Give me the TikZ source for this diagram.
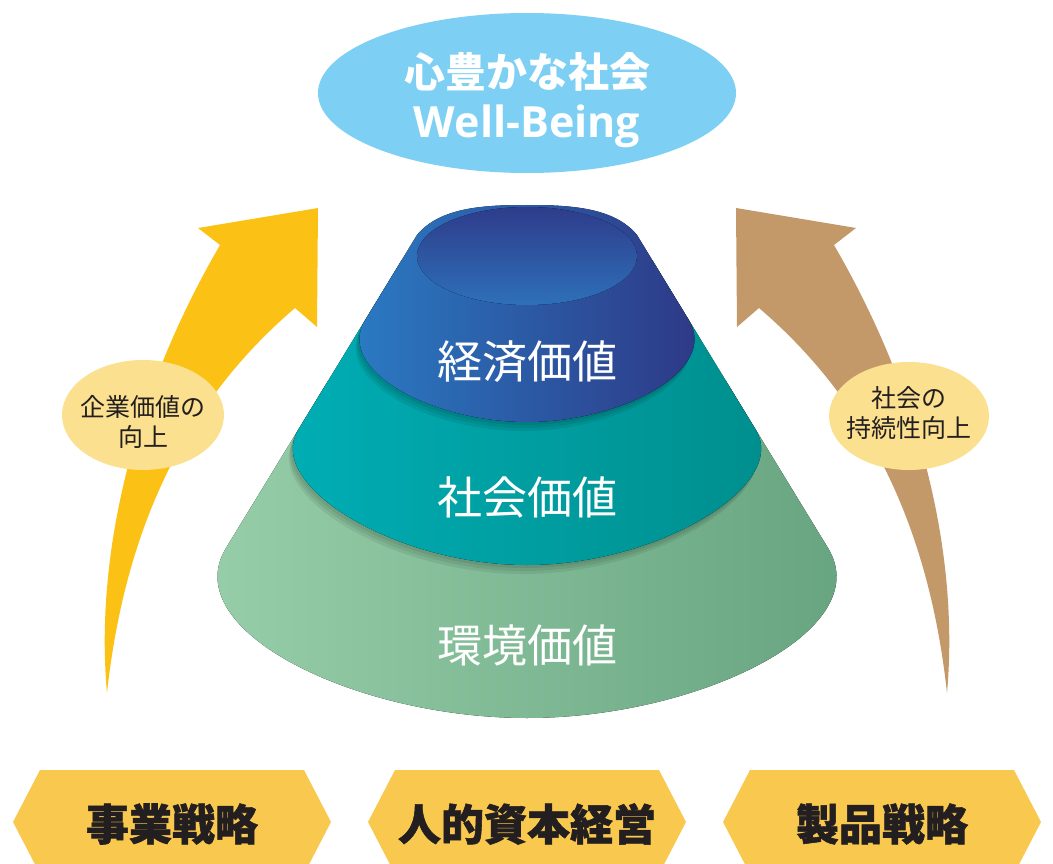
\documentclass[tikz,border=0pt]{standalone}
\usepackage{fontspec}
\usetikzlibrary{shapes.geometric}
\newfontfamily\jp{Noto Sans CJK JP}
\newfontfamily\jpheavy{Noto Sans CJK JP}[BoldFeatures={FakeBold=1.3}]
\newfontfamily\latsans{Open Sans}
\definecolor{skyb}{HTML}{7DCFF3}
\definecolor{arrY}{HTML}{FCC115}
\definecolor{arrB}{HTML}{C4996A}
\definecolor{bub}{HTML}{FBE08F}
\definecolor{hexY}{HTML}{F9C84E}
\definecolor{blueL}{HTML}{2A7EC6}
\definecolor{blueR}{HTML}{2E3583}
\definecolor{capT}{HTML}{2E3C8B}
\definecolor{capB}{HTML}{2E70B9}
\definecolor{tealL}{HTML}{00AFB6}
\definecolor{tealR}{HTML}{008D8C}
\definecolor{grnL}{HTML}{99D0AB}
\definecolor{grnR}{HTML}{65A27E}
\definecolor{ink}{HTML}{231F20}
\tikzset{
  bluepath/.style={insert path={(417,235) .. controls (440,207) and (485,205) .. (527,205) .. controls (569,205) and (614,207) .. (637,235) -- (688.8,320) .. controls (719.3,370) and (622,422) .. (527,422) .. controls (432,422) and (334.7,370) .. (365.2,320) -- cycle}},
  tealpath/.style={insert path={(401.8,260) -- (298.1,430) .. controls (264.5,485) and (395,565) .. (527,565) .. controls (659,565) and (789.5,485) .. (755.9,430) -- (652.2,260) -- cycle}},
  grnpath/.style={insert path={(328.6,380) -- (226,548) .. controls (176,630) and (355,718) .. (527,718) .. controls (699,718) and (878,630) .. (828,548) -- (725.4,380) -- cycle}},
  shadowcopy/.style={fill=black, opacity=0.07},
  layertext/.style={font=\jp\fontsize{45}{50}\selectfont, text=white, inner sep=0pt},
  bubble/.style={ellipse, fill=bub, inner sep=0pt},
  bubtext/.style={font=\jp\fontsize{25}{30}\selectfont, text=ink, align=center, inner sep=0pt},
  hexbox/.style={fill=hexY},
  hextext/.style={font=\jpheavy\bfseries\fontsize{43}{48}\selectfont, text=ink, inner sep=0pt},
}
\begin{document}
\begin{tikzpicture}[x=1pt, y=-1pt]
\useasboundingbox (0,0) rectangle (1053,864);
\clip (0,0) rectangle (1053,864);

% top goal ellipse
\node[ellipse, fill=skyb, minimum width=418, minimum height=160, inner sep=0pt] (goal) at (527,93) {};
\node[font=\jp\bfseries\fontsize{41}{46}\selectfont, text=white, inner sep=0pt] (goalA) at (527,72) {心豊かな社会};
\node[font=\latsans\bfseries\fontsize{43}{48}\selectfont, text=white, inner sep=0pt, anchor=base] (goalB) at (527,138) {Well-Being};

% arrows
\fill[arrY] (107,693) .. controls (95,560) and (130,400) .. (220,245) -- (198,228) -- (318,208) -- (317,327) -- (295,308) .. controls (205,385) and (128,500) .. (107,693) -- cycle;
\fill[arrB] (947,693) .. controls (959,560) and (924,400) .. (834,245) -- (856,228) -- (736,208) -- (737,327) -- (759,308) .. controls (849,385) and (926,500) .. (947,693) -- cycle;

% bubbles
\node[bubble, minimum width=162, minimum height=110] (bubL) at (143,415) {};
\node[bubtext] (bubLt) at (143,422) {企業価値の\\向上};
\node[bubble, minimum width=160, minimum height=108] (bubR) at (909,416) {};
\node[bubtext] (bubRt) at (909,413) {社会の\\持続性向上};

% cone layers
\fill[shading=axis, left color=grnL, right color=grnR, grnpath];
\fill[shadowcopy, shift={(-2,3)}, tealpath];
\fill[shadowcopy, shift={(-3,6)}, tealpath];
\fill[shadowcopy, shift={(-4,9)}, tealpath];
\fill[shading=axis, left color=tealL, right color=tealR, tealpath];
\fill[shadowcopy, shift={(-2,3)}, bluepath];
\fill[shadowcopy, shift={(-3,6)}, bluepath];
\fill[shadowcopy, shift={(-4,9)}, bluepath];
\fill[shading=axis, left color=blueL, right color=blueR, bluepath];
\fill[top color=capT, bottom color=capB] (527,256) ellipse [x radius=110, y radius=49];

\node[layertext] (econ) at (527,362) {経済価値};
\node[layertext] (soc) at (527,497) {社会価値};
\node[layertext] (env) at (527,645) {環境価値};

% bottom hexagons
\foreach \cx/\nm/\txt in {172/hexA/事業戦略, 527/hexB/人的資本経営, 882/hexC/製品戦略}{
  \fill[hexbox] (\cx-159,822) -- (\cx-132,770) -- (\cx+132,770) -- (\cx+159,822) -- (\cx+132,874) -- (\cx-132,874) -- cycle;
  \node[hextext] (\nm) at (\cx,824) {\txt};
}
\end{tikzpicture}
\end{document}
